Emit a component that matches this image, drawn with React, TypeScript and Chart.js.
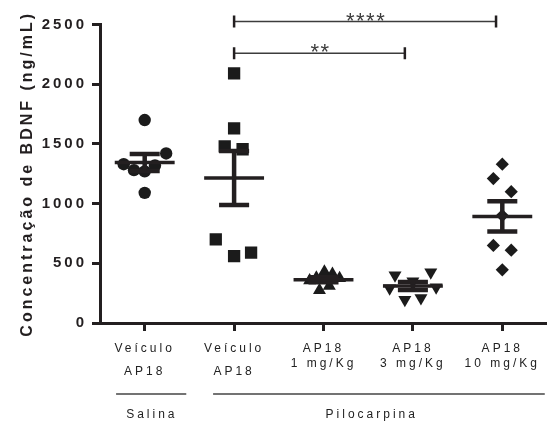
import React, { useEffect, useRef } from 'react';
import { Chart, registerables } from 'chart.js';

Chart.register(...registerables);

// ---------- data ----------
const categoryLabels: string[][] = [
  ['Veículo', '', '', 'AP18'],
  ['Veículo', '', '', 'AP18'],
  ['AP18', '', '1 mg/Kg'],
  ['AP18', '', '3 mg/Kg'],
  ['AP18', '', '10 mg/Kg'],
];

const salinaVeiculo = [1700, 1420, 1330, 1280, 1270, 1320, 1090];
const pilocarpinaVeiculo = [2090, 1630, 1480, 1455, 700, 560, 590];
const ap18Dose1 = [380, 430, 410, 375, 355, 275, 310];
const ap18Dose3 = [400, 425, 350, 290, 300, 195, 210];
const ap18Dose10 = [1330, 1210, 1100, 900, 650, 610, 445];

// horizontal scatter (jitter) of each point inside its column, in category units
const salinaVeiculoJitter = [0, 0.24, -0.235, -0.12, 0, 0.115, 0];
const pilocarpinaVeiculoJitter = [0, 0, -0.105, 0.095, -0.205, 0, 0.19];
const ap18Dose1Jitter = [-0.08, 0.01, 0.1, 0.18, -0.155, -0.045, 0.065];
const ap18Dose3Jitter = [-0.2, 0.2, 0, -0.26, 0.26, -0.09, 0.09];
const ap18Dose10Jitter = [0, -0.1, 0.1, 0, -0.1, 0.1, 0];

const yTicks = [0, 500, 1000, 1500, 2000, 2500];
const yTitle = 'Concentração de BDNF (ng/mL)';

// significance brackets
const bracketFrom = [1, 1];
const bracketTo = [2.91, 3.93];
const bracketLevel = [2260, 2525];
const bracketText = ['**', '****'];

// group labels under the axis
const groupNames = ['Salina', 'Pilocarpina'];
const groupStart = [-0.32, 0.765];
const groupEnd = [0.465, 4.475];
const groupTextAt = [0.08, 2.54];

// ---------- helpers ----------
const groups = [salinaVeiculo, pilocarpinaVeiculo, ap18Dose1, ap18Dose3, ap18Dose10];
const jitters = [salinaVeiculoJitter, pilocarpinaVeiculoJitter, ap18Dose1Jitter, ap18Dose3Jitter, ap18Dose10Jitter];
const mean = (a: number[]) => a.reduce((s, v) => s + v, 0) / a.length;
const sem = (a: number[]) => {
  const m = mean(a);
  const sd = Math.sqrt(a.reduce((s, v) => s + (v - m) * (v - m), 0) / (a.length - 1));
  return sd / Math.sqrt(a.length);
};

const INK = '#231f20';
const FAMILY = "'Liberation Sans', Arial, Helvetica, sans-serif";

const markerStyle = ['circle', 'rect', 'triangle', 'triangle', 'rectRot'];
const markerRadius = [6.2, 8.7, 7.5, 7.5, 6.6];
const markerRotation = [0, 0, 0, 180, 0];

const spacingPlugin = {
  id: 'letterSpacing',
  beforeLayout(chart: any) {
    chart.ctx.letterSpacing = '3px';
  },
  beforeDraw(chart: any) {
    chart.ctx.letterSpacing = '3px';
  },
};

const annotationPlugin = {
  id: 'annotations',
  afterDraw(chart: any) {
    const ctx = chart.ctx as CanvasRenderingContext2D;
    const xs = chart.scales.x;
    const ys = chart.scales.y;
    const bottom = chart.chartArea.bottom;
    ctx.save();
    // brackets
    for (let i = 0; i < bracketText.length; i++) {
      const x1 = xs.getPixelForValue(bracketFrom[i]);
      const x2 = xs.getPixelForValue(bracketTo[i]);
      const yy = ys.getPixelForValue(bracketLevel[i]);
      ctx.strokeStyle = '#3c3c3c';
      ctx.lineWidth = 1.5;
      ctx.beginPath();
      ctx.moveTo(x1, yy);
      ctx.lineTo(x2, yy);
      ctx.stroke();
      ctx.strokeStyle = INK;
      ctx.lineWidth = 2.5;
      ctx.beginPath();
      ctx.moveTo(x1, yy - 6);
      ctx.lineTo(x1, yy + 6);
      ctx.moveTo(x2, yy - 6);
      ctx.lineTo(x2, yy + 6);
      ctx.stroke();
      ctx.fillStyle = '#3c3c3c';
      ctx.font = `22px ${FAMILY}`;
      (ctx as any).letterSpacing = '1.5px';
      ctx.textAlign = 'center';
      ctx.textBaseline = 'alphabetic';
      ctx.fillText(bracketText[i], (x1 + x2) / 2 + 1, yy + 6);
    }
    // group labels
    for (let i = 0; i < groupNames.length; i++) {
      const x1 = xs.getPixelForValue(groupStart[i]);
      const x2 = xs.getPixelForValue(groupEnd[i]);
      ctx.strokeStyle = '#444';
      ctx.lineWidth = 1.4;
      ctx.beginPath();
      ctx.moveTo(x1, bottom + 71);
      ctx.lineTo(x2, bottom + 71);
      ctx.stroke();
      ctx.fillStyle = '#222';
      ctx.font = `12px ${FAMILY}`;
      (ctx as any).letterSpacing = '3px';
      ctx.textAlign = 'center';
      ctx.textBaseline = 'middle';
      ctx.fillText(groupNames[i], xs.getPixelForValue(groupTextAt[i]), bottom + 92);
    }
    ctx.restore();
  },
};

export default function App() {
  const ref = useRef<HTMLCanvasElement>(null);

  useEffect(() => {
    if (!ref.current) return;

    const pointSets = groups.map((vals, i) => ({
      type: 'scatter' as const,
      data: vals.map((v, j) => ({ x: i + jitters[i][j], y: v })),
      pointStyle: markerStyle[i],
      pointRadius: markerRadius[i],
      pointRotation: markerRotation[i],
      backgroundColor: '#1b1b1b',
      borderColor: '#1b1b1b',
      borderWidth: 0,
      order: 2,
    }));

    const meanData: any[] = [];
    const semData: any[] = [];
    const capData: any[] = [];
    groups.forEach((vals, i) => {
      const m = mean(vals);
      const s = sem(vals);
      meanData.push({ x: i - 0.335, y: m }, { x: i + 0.335, y: m }, { x: i + 0.4, y: null });
      semData.push({ x: i, y: m - s }, { x: i, y: m + s }, { x: i + 0.4, y: null });
      capData.push(
        { x: i - 0.168, y: m + s }, { x: i + 0.168, y: m + s }, { x: i + 0.2, y: null },
        { x: i - 0.168, y: m - s }, { x: i + 0.168, y: m - s }, { x: i + 0.4, y: null },
      );
    });
    const lineBase = {
      type: 'line' as const,
      showLine: true,
      spanGaps: false,
      pointRadius: 0,
      borderColor: INK,
      borderCapStyle: 'butt',
      fill: false,
      order: 1,
    };

    const chart = new Chart(ref.current, {
      type: 'scatter',
      data: {
        datasets: [
          ...pointSets,
          { ...lineBase, data: meanData, borderWidth: 3.5 },
          { ...lineBase, data: semData, borderWidth: 4.5 },
          { ...lineBase, data: capData, borderWidth: 4.5 },
        ] as any,
      },
      options: {
        responsive: false,
        animation: false,
        layout: { autoPadding: false, padding: { top: 24.5, left: 0, right: 0, bottom: 0 } },
        plugins: {
          legend: { display: false },
          tooltip: { enabled: false },
        },
        scales: {
          x: {
            type: 'linear',
            min: -0.5,
            max: 4.5,
            afterBuildTicks: (s: any) => {
              s.ticks = categoryLabels.map((_, i) => ({ value: i }));
            },
            afterFit: (s: any) => {
              s.height = 103;
              s.paddingLeft = 0;
              s.paddingRight = 0;
            },
            ticks: {
              autoSkip: false,
              maxRotation: 0,
              minRotation: 0,
              padding: 14,
              color: '#222',
              font: { family: FAMILY, size: 12, lineHeight: '7.5px' },
              callback: (_v: any, i: number) => categoryLabels[i],
            },
            grid: {
              drawOnChartArea: false,
              drawTicks: true,
              tickLength: 8,
              tickWidth: 3,
              tickColor: INK,
              color: INK,
              lineWidth: 3,
            },
            border: { display: true, width: 3, color: INK },
          },
          y: {
            type: 'linear',
            min: 0,
            max: 2500,
            afterBuildTicks: (s: any) => {
              s.ticks = yTicks.map((v) => ({ value: v }));
            },
            afterFit: (s: any) => {
              s.width = 100;
            },
            ticks: {
              padding: 5,
              color: INK,
              font: { family: FAMILY, size: 15, weight: 'bold' },
              callback: (v: any) => String(v),
            },
            grid: {
              drawOnChartArea: false,
              drawTicks: true,
              tickLength: 8,
              tickWidth: 3,
              tickColor: INK,
              color: INK,
              lineWidth: 3,
            },
            border: { display: true, width: 3, color: INK },
            title: {
              display: true,
              text: yTitle,
              color: INK,
              font: { family: FAMILY, size: 16, weight: 'bold', lineHeight: 1.2 },
              padding: { top: 18, bottom: 0 },
            },
          },
        },
      } as any,
      plugins: [spacingPlugin, annotationPlugin],
    });

    return () => chart.destroy();
  }, []);

  return (
    <div style={{ position: 'fixed', left: 0, top: 0, width: 547, height: 426, background: '#fff' }}>
      <canvas ref={ref} width={547} height={426} style={{ display: 'block' }} />
    </div>
  );
}
